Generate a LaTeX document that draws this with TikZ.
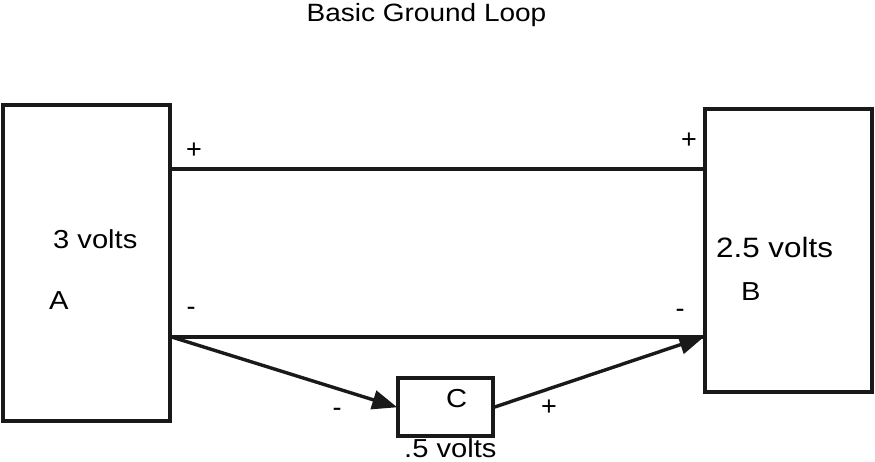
\documentclass[tikz,border=0pt]{standalone}
\usepackage{fontspec}
\usepackage{graphicx}
\setmainfont{Liberation Sans}
\usetikzlibrary{arrows.meta}
\newcommand{\wtxt}[1]{\scalebox{1.12}[1]{#1}}
\tikzset{
  blk/.style={draw=black!90, line width=3.4pt, minimum width=#1, inner sep=0pt},
  wire/.style={draw=black!90, line width=3.4pt},
  arr/.style={wire, -{Triangle[length=25pt,width=19pt]}, shorten >=-1pt},
  lbl/.style={inner sep=0pt, anchor=base west, font=\fontsize{26}{28}\selectfont},
  sgn/.style={inner sep=0pt, font=\fontsize{27}{29}\selectfont},
}
\begin{document}
\begin{tikzpicture}[x=1pt,y=-1pt]
\useasboundingbox (0,0) rectangle (875,461);
% boxes
\node[blk=167pt, minimum height=316pt] (A) at (86.5,263) {};
\node[blk=167pt, minimum height=283pt] (B) at (788.5,250.5) {};
\node[blk=95pt, minimum height=58pt] (C) at (445.5,407) {};
\coordinate (top) at (0,169);
\coordinate (bot) at (0,337);
% wires
\draw[wire] (A.east |- top) -- (B.west |- top);
\draw[wire] (A.east |- bot) -- (B.west |- bot);
\draw[arr] (A.east |- bot) -- (C.west);
\draw[arr] (C.east) -- (B.west |- bot);
% texts
\node[inner sep=0pt, anchor=base, font=\fontsize{25}{27}\selectfont] (title) at (426.5,21) {\wtxt{Basic Ground Loop}};
\node[lbl] (av) at (53,248) {\wtxt{3 volts}};
\node[lbl] (al) at (49,309) {\wtxt{A}};
\node[lbl, font=\fontsize{28}{30}\selectfont] (bv) at (716,257) {\wtxt{2.5 volts}};
\node[lbl] (bl) at (741,300) {\wtxt{B}};
\node[lbl] (cl) at (446,407) {\wtxt{C}};
\node[lbl] (cv) at (404,457) {\wtxt{.5 volts}};
% signs
\node[sgn] (p1) at (194,151) {+};
\node[sgn] (p2) at (689,141) {+};
\node[sgn] (m1) at (191,311) {-};
\node[sgn] (m2) at (680,313) {-};
\node[sgn] (m3) at (337,412) {-};
\node[sgn] (p3) at (549,408) {+};
\end{tikzpicture}
\end{document}
